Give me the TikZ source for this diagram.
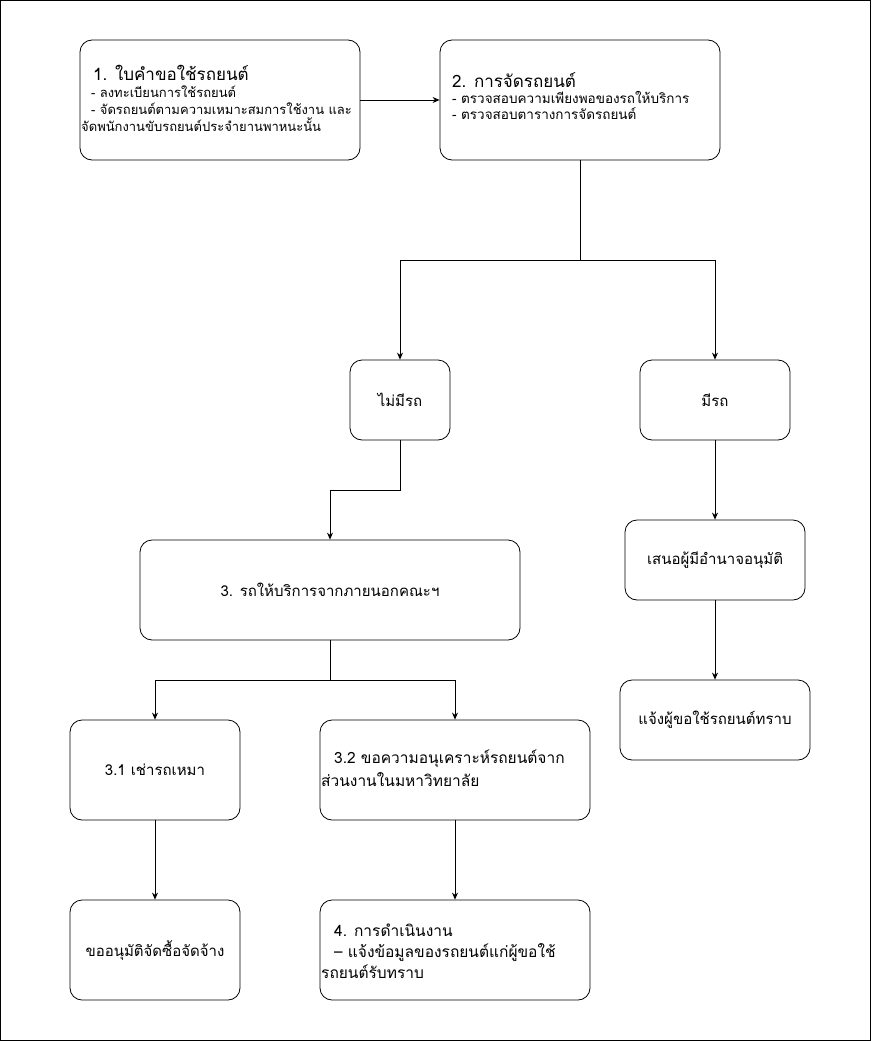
\documentclass[tikz,border=0pt]{standalone}
\usepackage{fontspec}
\setmainfont[Script=Thai]{Loma}
\usetikzlibrary{arrows.meta}
\begin{document}
\begin{tikzpicture}[x=1pt,y=-1pt,
  box/.style={draw,rounded corners=12pt,line width=0.8pt},
  conn/.style={line width=0.8pt,-{Stealth[length=7pt,width=6pt]}},
  seg/.style={line width=0.8pt},
  lbl/.style={font=\fontsize{15}{18}\selectfont},
  txt/.style={font=\fontsize{13.5}{17}\selectfont,align=left,inner sep=0pt,anchor=north west}]
\useasboundingbox (0,0) rectangle (871,1041);
\draw[line width=1.2pt] (0.6,0.6) rectangle (870.4,1040.4);
% boxes
\node[box,minimum width=280pt,minimum height=120pt] (b1) at (220,100) {};
\node[box,minimum width=280pt,minimum height=120pt] (b2) at (580,100) {};
\node[box,lbl,minimum width=100pt,minimum height=80pt] (nocar) at (400,400) {ไม่มีรถ};
\node[box,lbl,minimum width=150pt,minimum height=80pt] (car) at (715,400) {มีรถ};
\node[box,lbl,minimum width=380pt,minimum height=100pt] (b3) at (330,590) {3. รถให้บริการจากภายนอกคณะฯ};
\node[box,lbl,minimum width=170pt,minimum height=100pt] (b31) at (155,770) {3.1 เช่ารถเหมา};
\node[box,minimum width=270pt,minimum height=100pt] (b32) at (455,770) {};
\node[box,lbl,minimum width=170pt,minimum height=100pt] (appr) at (155,950) {ขออนุมัติจัดซื้อจัดจ้าง};
\node[box,minimum width=270pt,minimum height=100pt] (b4) at (455,950) {};
\node[box,lbl,minimum width=180pt,minimum height=80pt] (prop) at (715,560) {เสนอผู้มีอำนาจอนุมัติ};
\node[box,lbl,minimum width=190pt,minimum height=80pt] (inform) at (715,720) {แจ้งผู้ขอใช้รถยนต์ทราบ};
% texts
\node[txt,font=\fontsize{13}{17}\selectfont] (t1) at (81,65) {\hspace*{12pt}{\fontsize{17}{19}\selectfont 1. ใบคำขอใช้รถยนต์}\\
\hspace*{10pt}- ลงทะเบียนการใช้รถยนต์\\
\hspace*{10pt}- จัดรถยนต์ตามความเหมาะสมการใช้งาน และ\\
จัดพนักงานขับรถยนต์ประจำยานพาหนะนั้น};
\node[txt] (t2) at (452,72) {{\fontsize{17}{19}\selectfont 2. การจัดรถยนต์}\\[-1pt]
- ตรวจสอบความเพียงพอของรถให้บริการ\\[-1pt]
- ตรวจสอบตารางการจัดรถยนต์};
\node[txt,font=\fontsize{15.5}{23}\selectfont] (t32) at (321,750) {\hspace*{13pt}3.2 ขอความอนุเคราะห์รถยนต์จาก\\
ส่วนงานในมหาวิทยาลัย};
\node[txt,font=\fontsize{15.5}{21}\selectfont] (t4) at (321,924) {\hspace*{13pt}4. การดำเนินงาน\\
\hspace*{13pt}– แจ้งข้อมูลของรถยนต์แก่ผู้ขอใช้\\
รถยนต์รับทราบ};
% connectors
\draw[conn] (b1.east) -- (b2.west);
\coordinate (j2) at (580,260);
\draw[seg] (b2.south) -- (j2);
\draw[conn] (j2) -| (nocar.north);
\draw[conn] (j2) -| (car.north);
\coordinate (j3) at (400,490);
\draw[conn] (nocar.south) -- (j3) -| (b3.north);
\coordinate (j4) at (330,680);
\draw[seg] (b3.south) -- (j4);
\draw[conn] (j4) -| (b31.north);
\draw[conn] (j4) -| (b32.north);
\draw[conn] (b31.south) -- (appr.north);
\draw[conn] (b32.south) -- (b4.north);
\draw[conn] (car.south) -- (prop.north);
\draw[conn] (prop.south) -- (inform.north);
\end{tikzpicture}
\end{document}
